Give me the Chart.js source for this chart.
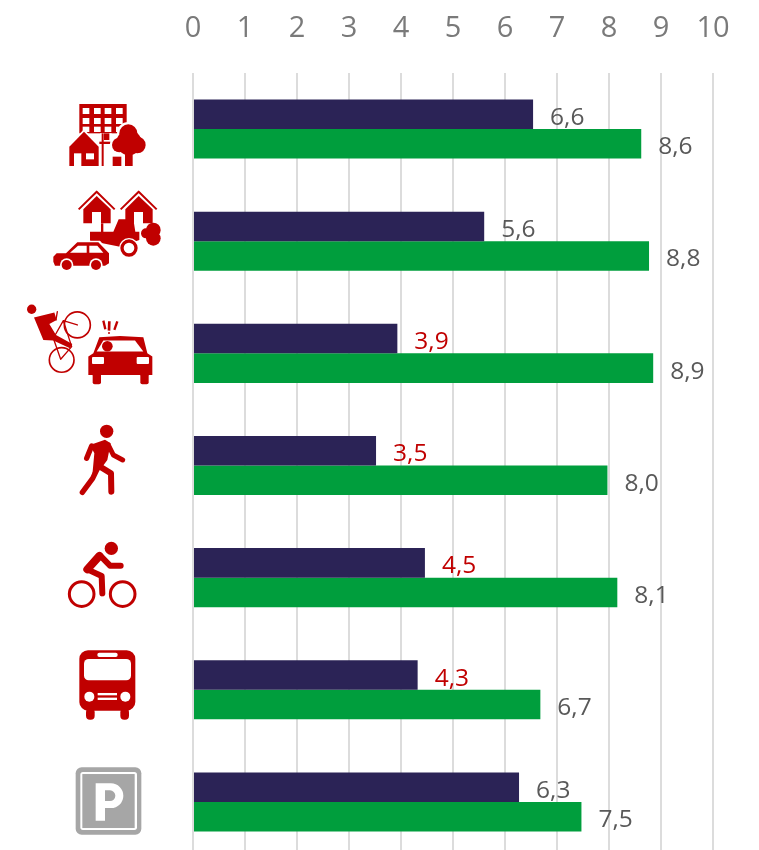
<!DOCTYPE html>
<html><head><meta charset="utf-8">
<style>html,body{margin:0;padding:0;background:#fff;overflow:hidden;width:759px;height:850px}canvas{display:block}</style>
<script src="https://cdn.jsdelivr.net/npm/chart.js@4"></script>
</head><body><canvas id="c" width="759" height="858"></canvas>
<script>
const categories=['Bebyggelse','Trafikmiljö','Trafiksäkerhet','Gång','Cykel','Kollektivtrafik','Parkering'];
const seriesA=[6.54,5.6,3.93,3.52,4.46,4.32,6.27];
const seriesB=[8.62,8.77,8.85,7.97,8.16,6.68,7.47];
const labelsA=['6,6','5,6','3,9','3,5','4,5','4,3','6,3'];
const labelsB=['8,6','8,8','8,9','8,0','8,1','6,7','7,5'];
const RED='#c00000',GREY='#595959',NAVY='#2b2356',GREEN='#009e3d',PGREY='#a6a6a6';
const isLow=s=>parseFloat(s.replace(',','.'))<5;

function poly(ctx,pts,fill){ctx.beginPath();pts.forEach((p,i)=>i?ctx.lineTo(p[0],p[1]):ctx.moveTo(p[0],p[1]));ctx.closePath();ctx.fillStyle=fill;ctx.fill();}
function rect(ctx,x0,y0,x1,y1,fill){ctx.fillStyle=fill;ctx.fillRect(x0,y0,x1-x0,y1-y0);}
function rr(ctx,x0,y0,x1,y1,r,fill){ctx.beginPath();ctx.roundRect(x0,y0,x1-x0,y1-y0,r);ctx.fillStyle=fill;ctx.fill();}
function circ(ctx,x,y,r,fill){ctx.beginPath();ctx.arc(x,y,r,0,Math.PI*2);ctx.fillStyle=fill;ctx.fill();}
function ring(ctx,x,y,r,w,col){ctx.beginPath();ctx.arc(x,y,r,0,Math.PI*2);ctx.strokeStyle=col;ctx.lineWidth=w;ctx.stroke();}
function line(ctx,pts,w,col,cap){ctx.beginPath();pts.forEach((p,i)=>i?ctx.lineTo(p[0],p[1]):ctx.moveTo(p[0],p[1]));ctx.strokeStyle=col;ctx.lineWidth=w;ctx.lineCap=cap||'round';ctx.lineJoin='round';ctx.stroke();}

const W='#fff';
const icons=[
 {ox:20,oy:90,ref:129.07,draw(c){
  rect(c,178,42,320,130,RED);
  for(const y of [54,84,110])for(const x of [188,222,254,288])rect(c,x,y,x+20,y+(y==110?16:18),W);
  rect(c,240,130,275,228,W);rect(c,245,130,251,228,RED);rect(c,238,155,272,162,RED);rect(c,252,130,268,150,RED);
  const house=[[192,125],[148,170],[148,228],[236,228],[236,170]];
  line(c,[...house,house[0]],10,W);poly(c,house,RED);
  rect(c,198,190,222,208,W);rect(c,162,190,184,228,W);
  const tree=[[325,130,27],[298,165,22],[352,165,25],[327,158,38]];
  tree.forEach(t=>circ(c,t[0],t[1],t[2]+7,W));
  rect(c,278,200,304,228,RED);
  tree.forEach(t=>circ(c,t[0],t[1],t[2],RED));rect(c,315,180,338,228,RED);
 }},
 {ox:20,oy:90,ref:241.2,draw(c){
  for(const dx of [0,126]){
   line(c,[[176+dx,358],[230+dx,305],[284+dx,358]],6,RED,'butt');
   poly(c,[[230+dx,318],[190+dx,358],[190+dx,400],[272+dx,400],[272+dx,358]],RED);
   rect(c,216+dx,366,243+dx,402,W);
  }
  rect(c,243,400,250,428,RED);
  poly(c,[[280,425],[296,388],[340,388],[346,425],[358,425],[358,450],[300,470],[210,452],[210,425]],RED);
  circ(c,327,474,30,W);ring(c,327,474,21,10,RED);
  circ(c,400,420,22,RED);circ(c,400,445,22,RED);circ(c,378,430,15,RED);
  poly(c,[[130,500],[168,452],[240,452],[272,488],[272,525],[100,530],[96,495]],W);
  poly(c,[[138,490],[172,457],[235,457],[267,490],[267,520],[255,527],[105,527],[100,515],[100,500],[110,490]],RED);
  poly(c,[[150,488],[174,467],[200,467],[200,488]],W);poly(c,[[208,467],[232,467],[250,488],[208,488]],W);
  for(const x of [140,228]){circ(c,x,525,20,W);circ(c,x,525,15,RED);}
 }},
 {ox:20,oy:90,ref:353.4,draw(c){
  circ(c,35,658,14,RED);
  ring(c,172,705,39,5,RED);ring(c,125,810,37,5,RED);
  line(c,[[172,705],[130,692],[100,745],[122,808],[155,770],[130,692]],4,RED);
  line(c,[[112,665],[108,690]],4,RED);
  poly(c,[[42,683],[103,668],[110,690],[88,702],[108,735],[157,762],[150,775],[100,752],[70,750]],RED);
  line(c,[[250,692],[256,718]],7,RED,'butt');line(c,[[268,694],[267,722]],8,RED,'butt');line(c,[[292,694],[283,720]],7,RED,'butt');
  circ(c,267,729,3,RED);
  poly(c,[[238,742],[300,738],[370,742],[382,790],[397,800],[397,855],[205,855],[205,800],[220,790]],RED);
  rr(c,218,850,243,883,6,RED);rr(c,361,850,386,883,6,RED);
  poly(c,[[230,785],[250,752],[345,752],[370,785]],W);
  circ(c,262,769,16,RED);
  rr(c,216,801,252,822,3,W);rr(c,350,801,387,822,3,W);
 }},
 {ox:50,oy:410,ref:465.5,draw(c){
  circ(c,170,64,20,RED);
  poly(c,[[120,105],[165,89],[182,100],[172,150],[150,180],[127,195],[133,130]],RED);
  line(c,[[125,108],[110,145]],16,RED);line(c,[[175,105],[190,135],[218,150]],15,RED);
  line(c,[[140,180],[128,205],[97,247]],16,RED);line(c,[[150,170],[183,190],[184,245]],18,RED);
 }},
 {ox:50,oy:410,ref:577.6,draw(c){
  circ(c,184,415,20,RED);
  ring(c,95,552,37,9,RED);ring(c,218,552,37,9,RED);
  line(c,[[148,438],[112,478]],24,RED);line(c,[[150,436],[180,467],[212,467]],18,RED);
  line(c,[[112,478],[155,498],[157,550]],18,RED);
 }},
 {ox:50,oy:410,ref:689.8,draw(c){
  rr(c,88,721,256,902,26,RED);
  rr(c,102,747,243,811,14,W);rr(c,142,728,203,741,6,W);
  circ(c,118,860,15,W);circ(c,226,860,15,W);
  rect(c,143,849,201,856,W);rect(c,143,863,201,870,W);
  rr(c,108,895,134,929,12,RED);rr(c,211,895,237,929,12,RED);
 }},
 {ox:50,oy:410,ref:801.9,draw(c){
  rr(c,77,1072,274,1274,18,PGREY);
  rr(c,91,1086,261,1260,8,W);
  rect(c,97,1092,254,1254,PGREY);
  c.beginPath();c.moveTo(137,1120);c.lineTo(185,1120);c.arc(183,1157,37,-Math.PI/2,Math.PI/2);c.lineTo(165,1194);c.lineTo(165,1232);c.lineTo(137,1232);c.closePath();c.fillStyle=W;c.fill();
  c.beginPath();c.moveTo(165,1141);c.lineTo(180,1141);c.arc(180,1157,16,-Math.PI/2,Math.PI/2);c.lineTo(165,1173);c.closePath();c.fillStyle=PGREY;c.fill();
 }}
];

function drawLabels(chart,idx,texts,dy,clip){
 const ctx=chart.ctx,meta=chart.getDatasetMeta(idx);
 ctx.font='24.5px "Open Sans"';ctx.textBaseline='middle';ctx.textAlign='left';
 meta.data.forEach((b,i)=>{
  ctx.save();
  if(clip){ctx.beginPath();ctx.rect(b.x,b.y-b.height/2-20,120,b.height+20);ctx.clip();}
  ctx.fillStyle=isLow(texts[i])?RED:GREY;ctx.fillText(texts[i],b.x+17,b.y+dy);
  ctx.restore();
 });
}
const labelPlugin={id:'valueLabels',
 afterDatasetsDraw(chart){ drawLabels(chart,0,labelsA,3.5,true); drawLabels(chart,1,labelsB,3.5,false); }
};
const iconPlugin={id:'categoryIcons',afterDraw(chart){
 const y=chart.scales.y,ctx=chart.ctx;
 icons.forEach((ic,i)=>{ctx.save();ctx.translate(ic.ox,ic.oy+y.getPixelForValue(i)-ic.ref);ctx.scale(1/3,1/3);ic.draw(ctx);ctx.restore();});
}};

new Chart(document.getElementById('c'),{
 type:'bar',
 data:{labels:categories,datasets:[
  {label:'A',data:seriesA,backgroundColor:NAVY,barPercentage:1,categoryPercentage:59/112},
  {label:'B',data:seriesB,backgroundColor:GREEN,barPercentage:1,categoryPercentage:59/112}
 ]},
 options:{indexAxis:'y',responsive:false,animation:false,
  layout:{padding:{left:0,right:46,top:0,bottom:0}},
  plugins:{legend:{display:false},tooltip:{enabled:false}},
  scales:{
   x:{position:'top',min:0,max:10,
    grid:{color:'#dcdcdc',lineWidth:2,drawTicks:false},border:{display:false},
    ticks:{stepSize:1,color:'#7a7a7a',maxRotation:0,autoSkip:false,padding:27,font:{family:'"Open Sans"',size:29,weight:400}},
    afterFit(s){s.height=73;}},
   y:{grid:{display:false},border:{display:false},ticks:{display:false},afterFit(s){s.width=193;}}
  }
 },
 plugins:[labelPlugin,iconPlugin]
});
</script></body></html>
